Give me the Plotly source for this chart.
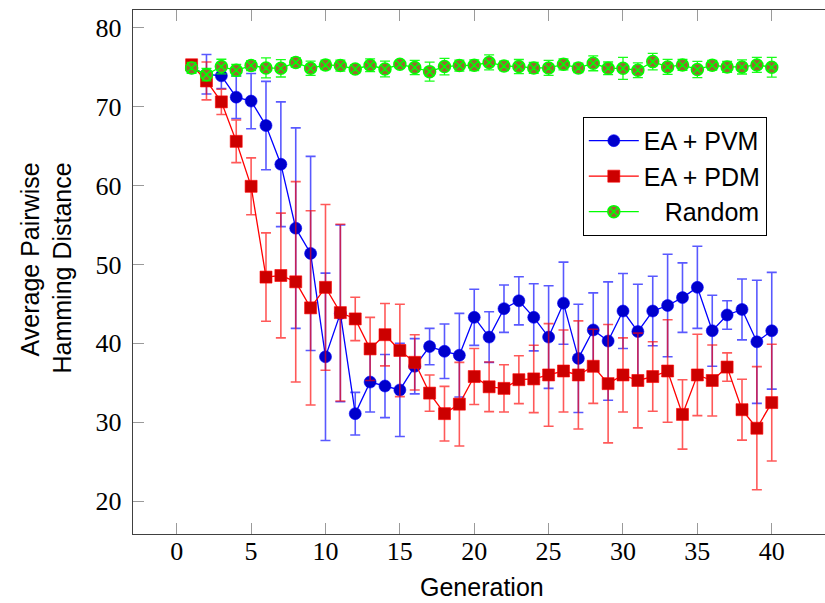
import plotly.graph_objects as go

generations = list(range(1, 41))

pvm_mean = [74.9, 74.1, 73.9, 71.2, 70.7, 67.6, 62.7, 54.6, 51.4, 38.3,
            43.8, 31.1, 35.1, 34.6, 34.1, 37.1, 39.6, 39.0, 38.5, 43.3,
            40.8, 44.4, 45.4, 43.3, 40.8, 45.1, 38.1, 41.7, 40.3, 44.1,
            41.5, 44.1, 44.8, 45.8, 47.1, 41.6, 43.6, 44.3, 40.2, 41.6]
pvm_err = [0.5, 2.5, 1.6, 2.7, 3.5, 5.6, 7.9, 12.7, 12.3, 10.6,
           11.2, 2.7, 3.8, 4.0, 5.9, 3.5, 2.3, 3.45, 5.3, 3.55,
           3.2, 3.0, 3.05, 4.25, 6.5, 5.2, 6.85, 4.7, 7.5, 4.75,
           6.0, 4.4, 6.5, 4.4, 5.2, 4.5, 1.8, 3.85, 7.8, 7.4]

pdm_mean = [75.3, 73.25, 70.6, 65.6, 59.9, 48.4, 48.6, 47.8, 44.5, 47.1,
            43.9, 43.1, 39.3, 41.1, 39.1, 37.6, 33.7, 31.1, 32.3, 35.8,
            34.5, 34.3, 35.4, 35.5, 36.0, 36.5, 36.0, 37.1, 34.9, 36.0,
            35.3, 35.8, 36.5, 31.0, 36.0, 35.3, 37.0, 31.6, 29.25, 32.5]
pdm_err = [0.6, 2.4, 1.6, 2.7, 3.6, 5.6, 7.9, 12.7, 12.3, 10.5,
           11.2, 2.75, 4.0, 3.95, 5.85, 3.5, 2.3, 3.46, 5.3, 3.55,
           3.15, 3.0, 3.03, 4.27, 6.5, 5.2, 6.85, 4.7, 7.5, 4.7,
           6.0, 4.4, 6.5, 4.4, 5.15, 4.5, 1.8, 3.85, 7.8, 7.4]

rnd_mean = [74.9, 74.05, 75.07, 74.6, 75.2, 74.9, 74.85, 75.6, 74.85, 75.28,
            75.2, 74.77, 75.24, 74.77, 75.36, 74.95, 74.43, 75.07, 75.2, 75.24,
            75.6, 75.15, 75.07, 74.9, 74.9, 75.36, 74.9, 75.49, 74.85, 74.85,
            74.6, 75.7, 75.03, 75.28, 74.69, 75.24, 75.03, 75.03, 75.28, 74.99]
rnd_err = [0.7, 0.8, 0.93, 0.74, 0.63, 1.27, 1.1, 0.6, 0.9, 0.6,
           0.7, 0.53, 0.8, 1.0, 0.46, 0.9, 1.2, 1.05, 0.7, 0.68,
           0.95, 0.6, 0.9, 0.7, 0.95, 0.7, 0.6, 0.95, 0.8, 1.4,
           0.93, 1.05, 0.95, 0.7, 1.03, 0.6, 0.7, 0.9, 0.95, 1.25]

x_ticks = [0, 5, 10, 15, 20, 25, 30, 35, 40]
y_ticks = [20, 30, 40, 50, 60, 70, 80]
x_range = [-2.94, 43.58]
y_range = [15.85, 82.24]

SANS = "Liberation Sans"
SERIF = "Liberation Serif"

fig = go.Figure()

fig.add_trace(go.Scatter(
    x=generations, y=pvm_mean, name="EA + PVM", mode="lines+markers",
    line=dict(color="rgb(0,0,255)", width=1.3),
    marker=dict(symbol="circle", size=12, color="rgb(0,0,204)",
                line=dict(color="rgb(0,0,255)", width=0.6)),
    error_y=dict(type="data", array=pvm_err, visible=True,
                 color="rgba(0,0,255,0.65)", thickness=1.6, width=5),
))
fig.add_trace(go.Scatter(
    x=generations, y=pdm_mean, name="EA + PDM", mode="lines+markers",
    line=dict(color="rgb(255,0,0)", width=1.3),
    marker=dict(symbol="square", size=12, color="rgb(204,0,0)",
                line=dict(color="rgb(255,0,0)", width=0.6)),
    error_y=dict(type="data", array=pdm_err, visible=True,
                 color="rgba(255,0,0,0.65)", thickness=1.6, width=5),
))
fig.add_trace(go.Scatter(
    x=generations, y=rnd_mean, name="\u00a0\u00a0\u00a0Random", mode="lines+markers",
    line=dict(color="rgb(0,255,0)", width=1.3),
    marker=dict(symbol="circle-x", size=12, color="rgb(153,102,51)",
                line=dict(color="rgb(0,255,0)", width=1.5)),
    error_y=dict(type="data", array=rnd_err, visible=True,
                 color="rgba(0,255,0,0.9)", thickness=1.3, width=5),
))

tick_common = dict(
    ticks="inside", ticklen=11, tickcolor="#9a9a9a", tickwidth=1,
    showgrid=False, zeroline=False,
    tickfont=dict(family=SERIF, size=26, color="black"),
)

fig.update_layout(
    width=825, height=603,
    margin=dict(l=133, r=0, t=10, b=69),
    plot_bgcolor="white", paper_bgcolor="white",
    xaxis=dict(range=x_range, tickvals=x_ticks, showline=True,
               linecolor="#404040", linewidth=1.4, mirror="ticks",
               ticklabelstandoff=-6, **tick_common),
    yaxis=dict(range=y_range, tickvals=y_ticks, showline=True,
               linecolor="#404040", linewidth=1.4, mirror=False,
               ticklabelstandoff=5, **tick_common),
    yaxis2=dict(range=y_range, tickvals=y_ticks, overlaying="y", side="right",
                showline=False, showticklabels=False, ticks="inside",
                ticklen=7, tickcolor="#9a9a9a", tickwidth=1,
                showgrid=False, zeroline=False),
    legend=dict(
        x=0.65, y=0.796, xanchor="left", yanchor="top",
        bordercolor="black", borderwidth=1, bgcolor="white",
        font=dict(family=SANS, size=25, color="black"),
        tracegroupgap=0, itemwidth=50,
    ),
    showlegend=True,
    annotations=[
        dict(text="Generation", xref="paper", yref="paper",
             x=0.505, y=-0.101, xanchor="center", yanchor="middle",
             showarrow=False, font=dict(family=SANS, size=25, color="black")),
        dict(text="Average Pairwise<br>Hamming Distance", xref="paper", yref="paper",
             x=-0.1257, y=0.5067, xanchor="center", yanchor="middle",
             textangle=-90, align="right",
             showarrow=False, font=dict(family=SANS, size=25, color="black")),
    ],
)

fig.write_html("out.html")
